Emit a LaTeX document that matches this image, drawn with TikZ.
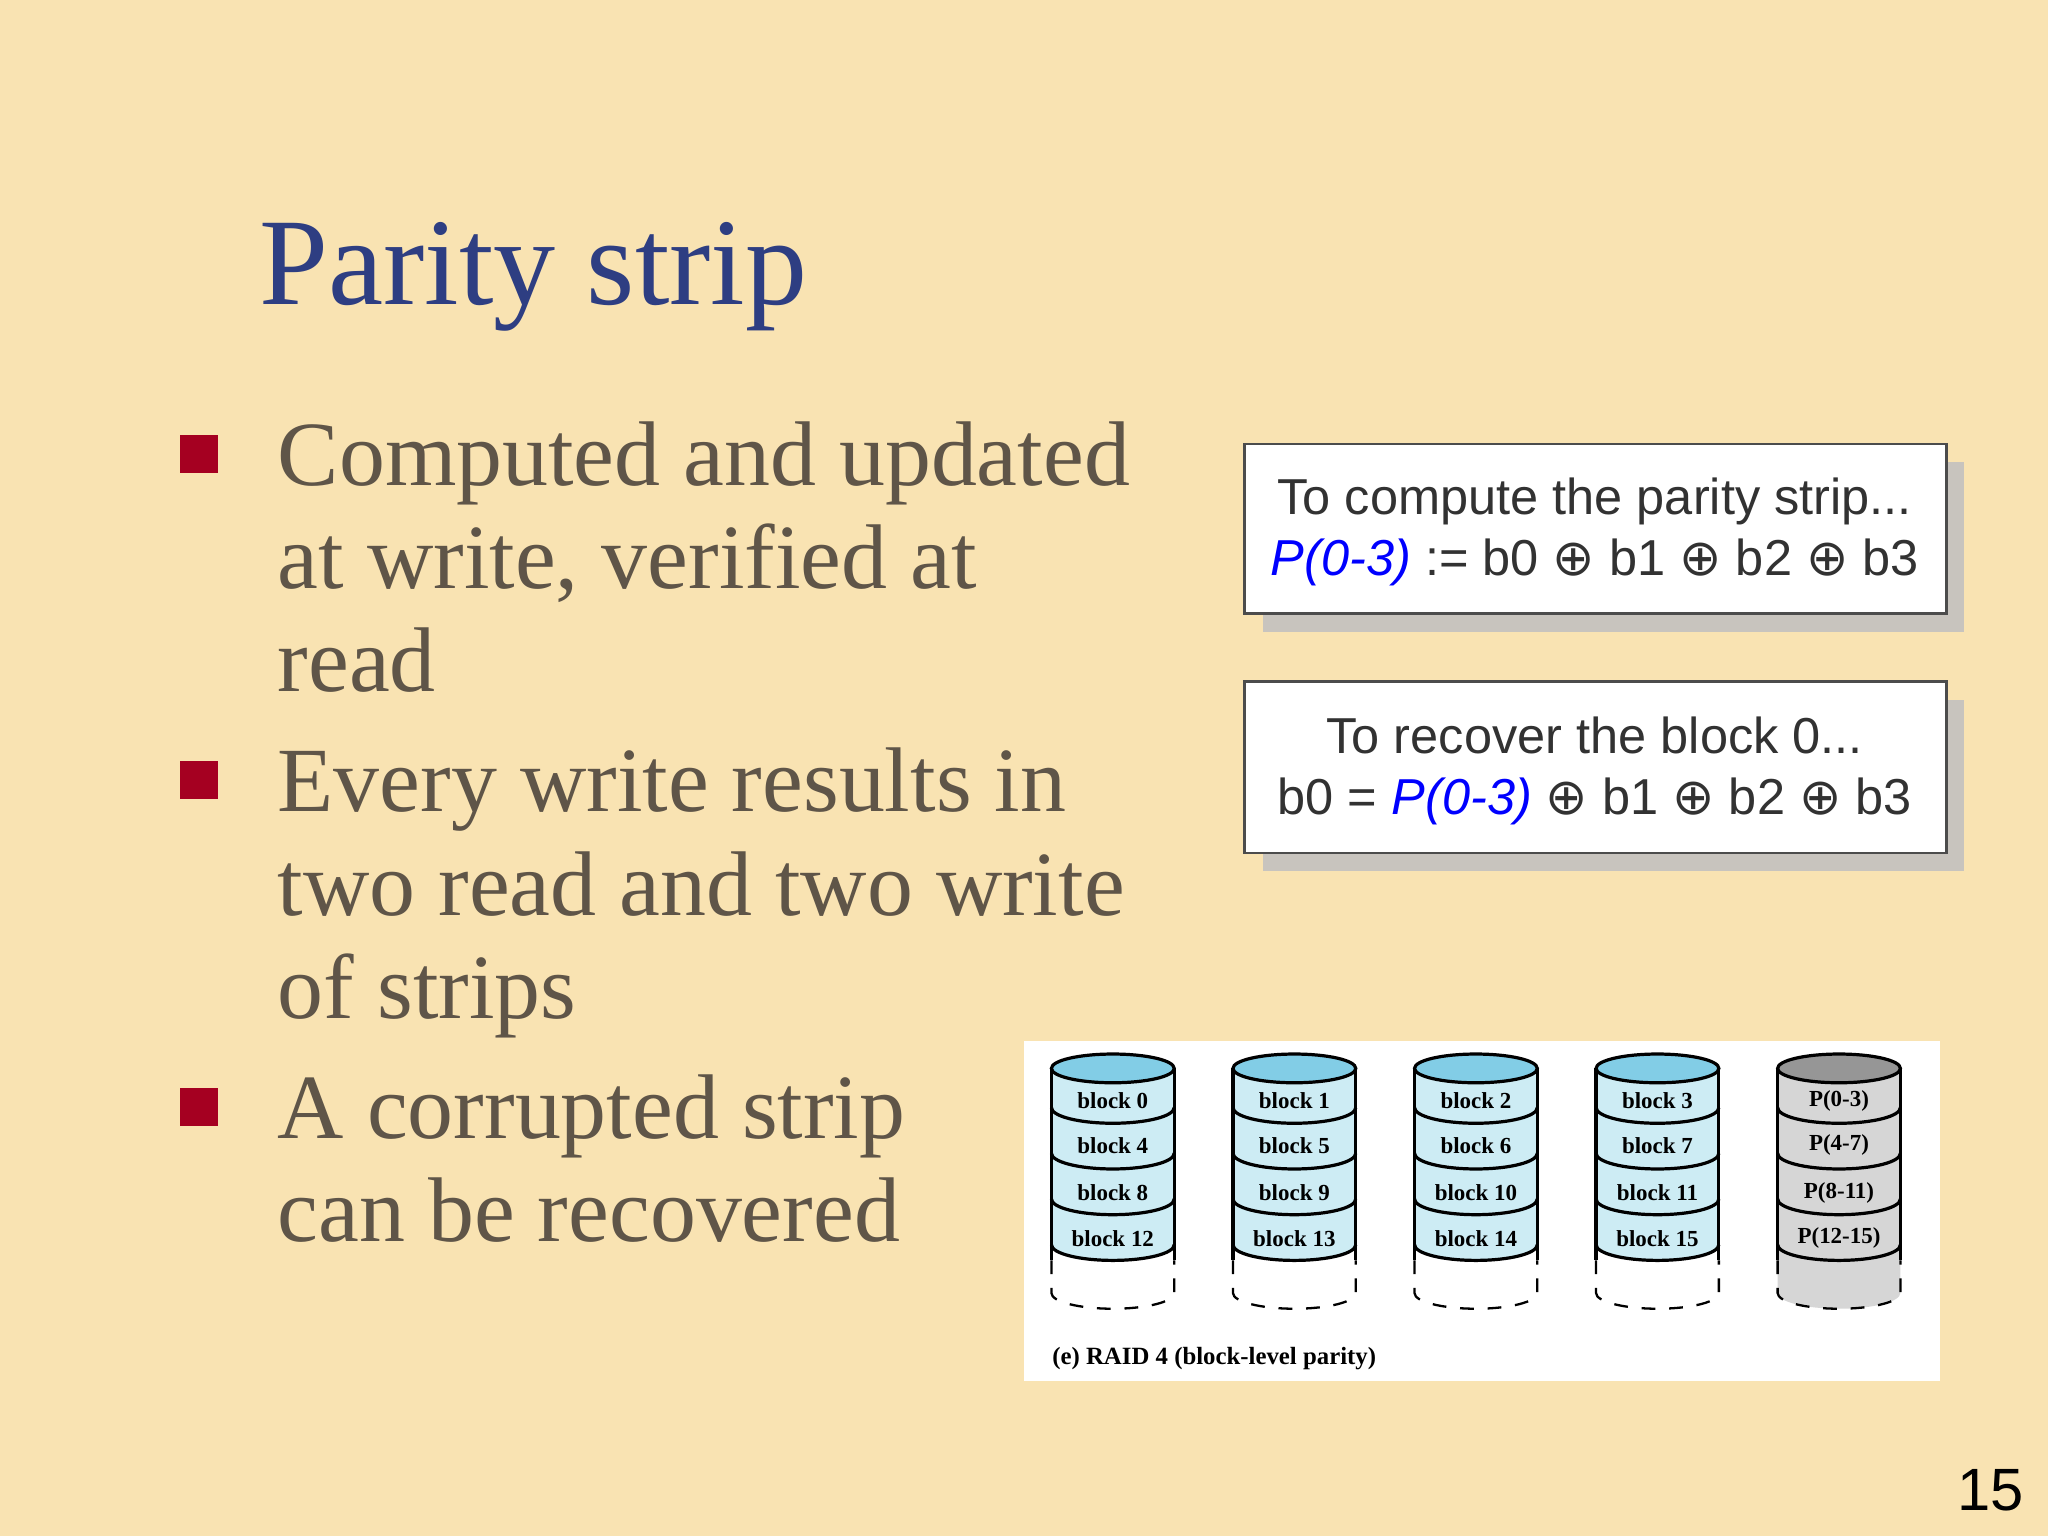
\documentclass[tikz,border=0pt]{standalone}
\usepackage{fontspec}
\setmainfont{Liberation Serif}
\newfontfamily\arial{Liberation Sans}
\newfontfamily\dejav{DejaVu Sans}
\definecolor{bg}{RGB}{249,227,178}
\definecolor{ttl}{RGB}{46,62,130}
\definecolor{txt}{RGB}{95,85,72}
\definecolor{bul}{RGB}{165,0,33}
\definecolor{dfill}{RGB}{205,236,244}
\definecolor{dtop}{RGB}{130,205,230}
\definecolor{pfill}{RGB}{214,214,214}
\definecolor{ptop}{RGB}{150,150,150}
\definecolor{shd}{RGB}{200,196,190}
\definecolor{btxt}{RGB}{50,50,50}
\newcommand{\xo}{{\dejav ⊕}}
\begin{document}
\begin{tikzpicture}[x=0.01cm,y=-0.01cm,
  bulsq/.style={fill=bul,draw=none},
  bultext/.style={anchor=north west,align=left,text=txt,font=\fontsize{20}{22.5}\selectfont,inner sep=0},
  infobox/.style={draw=black!70,fill=white,line width=0.6pt},
  boxtext/.style={align=center,text=btxt,font=\arial\fontsize{11}{13.3}\selectfont,inner sep=0},
  dlab/.style={font=\bfseries\fontsize{5}{5.5}\selectfont,inner sep=0}]
\fill[bg] (0,0) rectangle (1568,1176);
\useasboundingbox (0,0) rectangle (1568,1176);
\node[anchor=west,text=ttl,font=\fontsize{27}{30}\selectfont,inner sep=0] (title) at (198,212) {Parity strip};
\fill[bulsq] (138,333) rectangle (167,362);
\fill[bulsq] (138,583) rectangle (167,612);
\fill[bulsq] (138,833) rectangle (167,862);
\node[bultext] (b1) at (212,322) {Computed and updated\\at write, verified at\\read};
\node[bultext] (b2) at (212,572) {Every write results in\\two read and two write\\of strips};
\node[bultext] (b3) at (212,822) {A corrupted strip\\can be recovered};
% boxes
\fill[shd] (967,354) rectangle (1504,484);
\draw[infobox] (953,340) rectangle (1490,470);
\node[boxtext] (t1) at (1221,407) {To compute the parity strip...\\{\color{blue}\itshape P(0-3)} := b0 \xo{} b1 \xo{} b2 \xo{} b3};
\fill[shd] (967,536) rectangle (1504,667);
\draw[infobox] (953,522) rectangle (1490,653);
\node[boxtext] (t2) at (1221,590) {To recover the block 0...\\b0 = {\color{blue}\itshape P(0-3)} \xo{} b1 \xo{} b2 \xo{} b3};
% panel
\fill[white] (784,797) rectangle (1485,1057);
\node[anchor=west,font=\bfseries\fontsize{5.4}{6}\selectfont,inner sep=0] (cap) at (805,1040) {(e) RAID 4 (block-level parity)};
\foreach \cx/\fc/\tc/\bc/\la/\lb/\lc/\ld [count=\i] in {
  852/dfill/dtop/white/block 0/block 4/block 8/block 12,
  991/dfill/dtop/white/block 1/block 5/block 9/block 13,
  1130/dfill/dtop/white/block 2/block 6/block 10/block 14,
  1269/dfill/dtop/white/block 3/block 7/block 11/block 15,
  1408/pfill/ptop/pfill/P(0-3)/P(4-7)/P(8-11)/P(12-15)} {
  \fill[\bc] (\cx-47,953) -- (\cx-47,990) arc[start angle=180,end angle=360,x radius=47,y radius=-12] -- (\cx+47,953) -- cycle;
  \fill[\fc] (\cx-47,818) -- (\cx-47,953) arc[start angle=180,end angle=360,x radius=47,y radius=-12] -- (\cx+47,818) -- cycle;
  \draw[dashed,line width=0.5pt] (\cx-47,965) -- (\cx-47,990) arc[start angle=180,end angle=360,x radius=47,y radius=-12] -- (\cx+47,965);
  \draw[line width=0.7pt] (\cx-47,818) -- (\cx-47,965) (\cx+47,818) -- (\cx+47,965);
  \foreach \yy in {860,895,930,965}
    \draw[line width=0.7pt] (\cx-47,\yy-12) arc[start angle=180,end angle=360,x radius=47,y radius=-12];
  \filldraw[fill=\tc,line width=0.7pt] (\cx,818) ellipse[x radius=47,y radius=11];
  \node[dlab] (d\i a) at (\cx,843) {\la};
  \node[dlab] (d\i b) at (\cx,877) {\lb};
  \node[dlab] (d\i c) at (\cx,913) {\lc};
  \node[dlab] (d\i d) at (\cx,948) {\ld};
}
\node[font=\arial\fontsize{13}{15}\selectfont,inner sep=0] (pg) at (1524,1141) {15};
\end{tikzpicture}
\end{document}
